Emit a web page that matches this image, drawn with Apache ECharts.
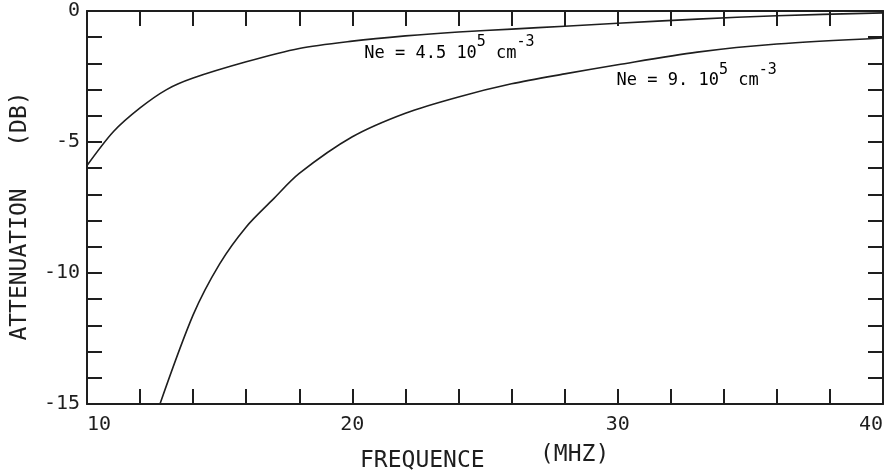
<!DOCTYPE html>
<html><head><meta charset="utf-8">
<script src="https://cdn.jsdelivr.net/npm/echarts@6/dist/echarts.min.js"></script>
<style>html,body{margin:0;padding:0;background:#fff}#c{width:886px;height:475px}</style>
</head><body><div id="c"></div>
<script>
// Ne = 4.5e5 cm^-3
const freq1 = [10, 11, 12, 13, 14, 16, 18, 20, 22, 24, 26, 28, 30, 33, 36, 40];
const atten1 = [-5.9, -4.6, -3.7, -3.0, -2.56, -1.94, -1.43, -1.15, -0.95, -0.8, -0.69, -0.58, -0.47, -0.31, -0.18, -0.07];
// Ne = 9e5 cm^-3
const freq2 = [12.75, 14, 15, 16, 17, 18, 20, 22, 24, 26, 28, 30, 33, 36, 40];
const atten2 = [-15, -11.6, -9.65, -8.24, -7.2, -6.2, -4.8, -3.9, -3.28, -2.78, -2.4, -2.05, -1.57, -1.26, -1.03];
const xLabels = [10, 20, 30, 40];
const yLabels = [0, -5, -10, -15];
const labelPos = [[20.45, -1.62], [29.96, -2.67]];

const FONT = 'DejaVu Sans Mono';
const INK = '#1e1e1e';
const chart = echarts.init(document.getElementById('c'));
const tick = { show: true, inside: true, length: 15, lineStyle: { color: INK, width: 2 } };
const line = { show: true, onZero: false, lineStyle: { color: INK, width: 2 } };
const xBase = { type: 'value', min: 10, max: 40, interval: 2, splitLine: { show: false }, axisLine: line, axisTick: tick };
const yBase = { type: 'value', min: -15, max: 0, interval: 1, splitLine: { show: false }, axisLine: line, axisTick: tick };

chart.setOption({
  animation: false,
  backgroundColor: '#fff',
  grid: { left: 87, right: 3, top: 11, bottom: 71 },
  xAxis: [
    Object.assign({}, xBase, { position: 'bottom', axisLabel: {
      color: INK, fontFamily: FONT, fontSize: 20, margin: 11,
      alignMinLabel: 'left', alignMaxLabel: 'right',
      formatter: v => xLabels.includes(v) ? String(v) : '' } }),
    Object.assign({}, xBase, { position: 'top', axisLabel: { show: false } })
  ],
  yAxis: [
    Object.assign({}, yBase, { position: 'left', axisLabel: {
      color: INK, fontFamily: FONT, fontSize: 20, margin: 7,
      formatter: v => yLabels.includes(v) ? String(v) : '' } }),
    Object.assign({}, yBase, { position: 'right', axisLabel: { show: false } })
  ],
  series: [
    { type: 'line', data: freq1.map((f, i) => [f, atten1[i]]), smooth: 0.3,
      showSymbol: false, lineStyle: { color: INK, width: 1.6 } },
    { type: 'line', data: freq2.map((f, i) => [f, atten2[i]]), smooth: 0.3,
      showSymbol: false, lineStyle: { color: INK, width: 1.6 } }
  ]
});

const p1 = chart.convertToPixel({ gridIndex: 0 }, labelPos[0]);
const p2 = chart.convertToPixel({ gridIndex: 0 }, labelPos[1]);
const rich = {
  a: { fontFamily: FONT, fontSize: 17, color: INK },
  s: { fontFamily: FONT, fontSize: 15, color: INK, padding: [0, 0, 22, 0] }
};
chart.setOption({
  graphic: [
    { type: 'text', x: p1[0], y: p1[1], style: { text: '{a|Ne = 4.5 10}{s|5}{a| cm}{s|-3}', rich: rich, align: 'left', verticalAlign: 'middle' } },
    { type: 'text', x: p2[0], y: p2[1], style: { text: '{a|Ne = 9. 10}{s|5}{a| cm}{s|-3}', rich: rich, align: 'left', verticalAlign: 'middle' } },
    { type: 'text', x: 360, y: 461, style: { text: 'FREQUENCE', font: '23px "' + FONT + '"', fill: INK, align: 'left', verticalAlign: 'middle' } },
    { type: 'text', x: 540, y: 455, style: { text: '(MHZ)', font: '23px "' + FONT + '"', fill: INK, align: 'left', verticalAlign: 'middle' } },
    { type: 'text', x: 20, y: 216, rotation: Math.PI / 2, style: { text: 'ATTENUATION   (DB)', font: '23px "' + FONT + '"', fill: INK, align: 'center', verticalAlign: 'middle' } }
  ]
});
</script></body></html>
